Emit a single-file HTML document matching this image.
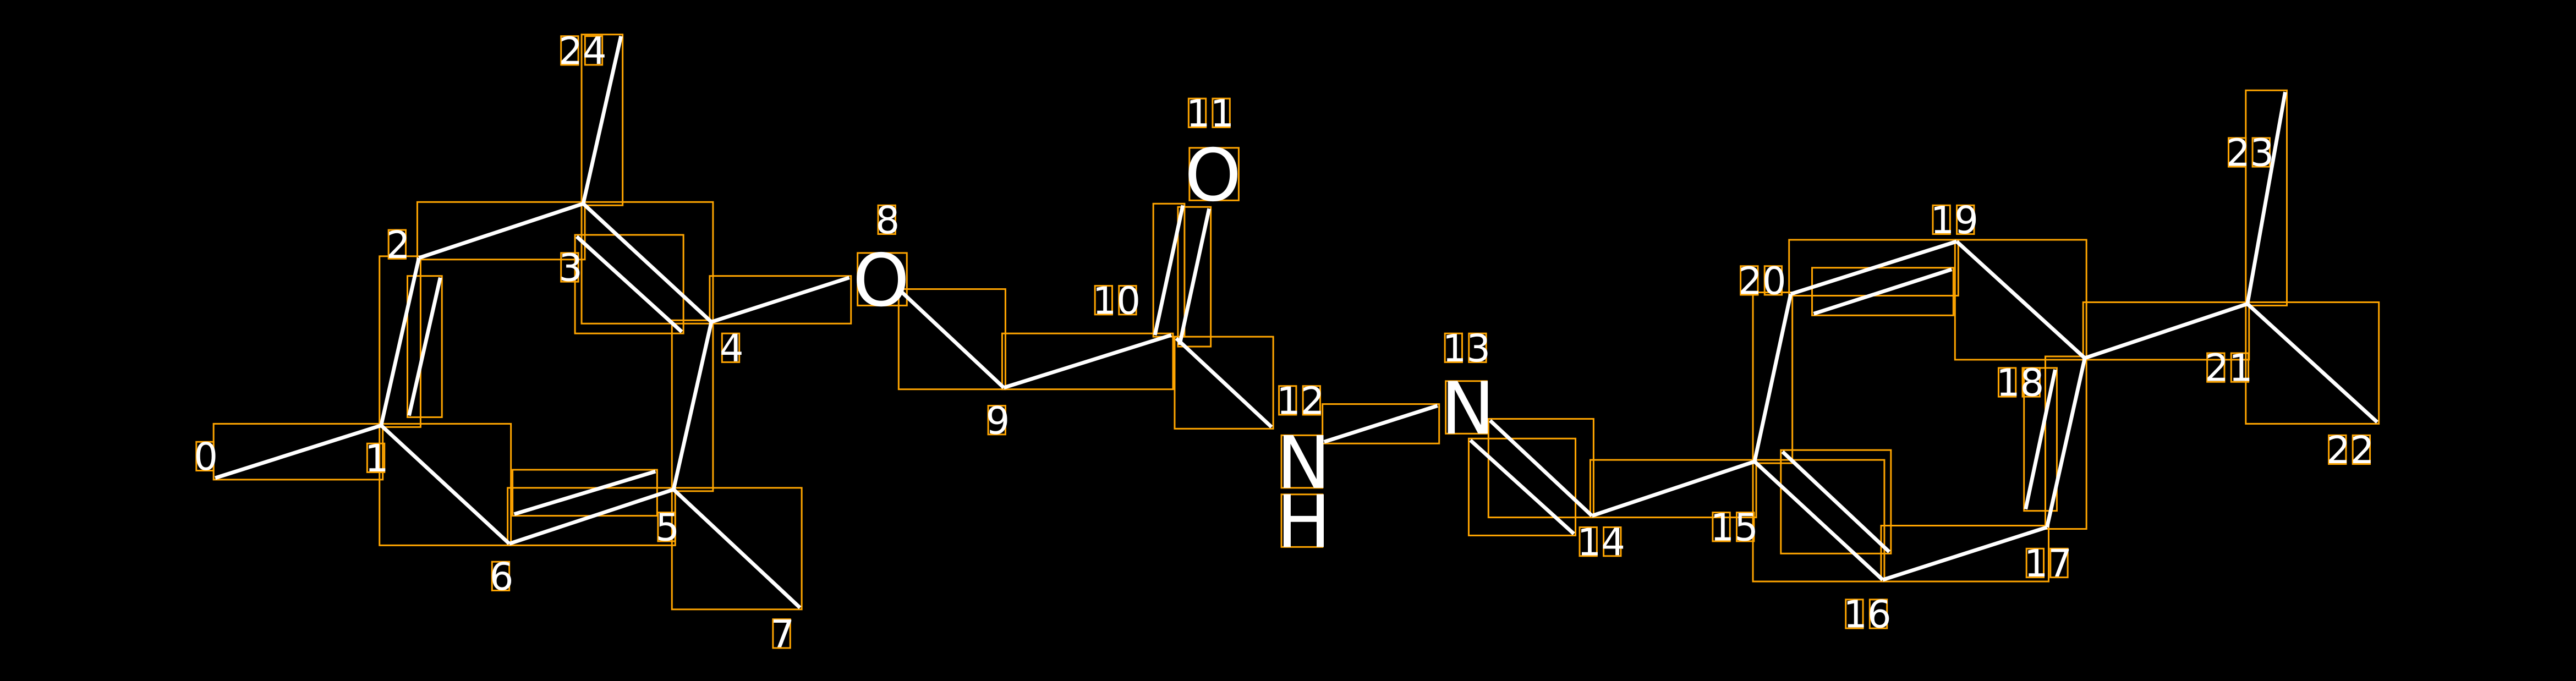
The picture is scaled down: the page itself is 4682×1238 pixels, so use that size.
<!DOCTYPE html>
<html><head><meta charset="utf-8"><style>
html,body{margin:0;padding:0;background:#000;overflow:hidden}
svg{display:block}
text{font-family:"DejaVu Sans","Liberation Sans",sans-serif;fill:#fff}
</style></head><body>
<svg id="s" xmlns="http://www.w3.org/2000/svg" width="4682" height="1238" viewBox="0 0 1568 414.6" preserveAspectRatio="none">
<rect x="0" y="0" width="1568" height="414.6" fill="#000"/>
<g id="boxes" fill="none" stroke="#FFA500" stroke-width="1"></g>
<g id="bonds" stroke="#fff" stroke-width="2.3" stroke-linecap="butt"></g>
<g id="labels">
<text x="118" y="286" font-size="23">0</text>
<text x="222" y="287" font-size="23">1</text>
<text x="235" y="157" font-size="23">2</text>
<text x="340" y="171" font-size="23">3</text>
<text x="438" y="220" font-size="23">4</text>
<text x="399" y="329" font-size="23">5</text>
<text x="298" y="359" font-size="23">6</text>
<text x="469" y="394" font-size="23">7</text>
<text x="533" y="142" font-size="23">8</text>
<text x="600" y="264" font-size="23">9</text>
<text x="665" y="191" font-size="23">10</text>
<text x="722" y="77" font-size="23">11</text>
<text x="777" y="252" font-size="23">12</text>
<text x="878" y="220" font-size="23">13</text>
<text x="960" y="338" font-size="23">14</text>
<text x="1041" y="329" font-size="23">15</text>
<text x="1122" y="382" font-size="23">16</text>
<text x="1232" y="351" font-size="23">17</text>
<text x="1215" y="241" font-size="23">18</text>
<text x="1175" y="142" font-size="23">19</text>
<text x="1058" y="179" font-size="23">20</text>
<text x="1342" y="232" font-size="23">21</text>
<text x="1416" y="282" font-size="23">22</text>
<text x="1355" y="101" font-size="23">23</text>
<text x="340" y="39" font-size="23">24</text>
<text x="519" y="186" font-size="44">O</text>
<text x="721" y="122" font-size="44">O</text>
<text x="777" y="297" font-size="44">N</text>
<text x="777" y="333" font-size="44">H</text>
<text x="877" y="264" font-size="44">N</text>
</g>
</svg>
<script>
var NS="http://www.w3.org/2000/svg";
var bonds=[
[131,291,232,259],[232,259,255,157],[249,253,268,169],[255,157,355,124],
[355,124,378,22],[355,124,433,196],[351,144,415,202],[433,196,517,169],
[433,196,410,298],[410,298,487,370],[410,298,310,331],[313,313,399,287],
[310,331,232,259],[548,177,611,236],[611,236,713,204],[703,204,720,125],
[718,210,736,127],[716,206,774,260],[806,269,875,247],[907,256,969,314],
[895,268,958,325],[969,314,1068,281],[1068,281,1146,353],[1085,275,1150,336],
[1146,353,1246,321],[1246,321,1269,218],[1233,310,1251,225],[1269,218,1191,147],
[1191,147,1090,179],[1104,191,1188,164],[1090,179,1068,281],[1269,218,1368,185],
[1368,185,1447,257],[1368,185,1391,56]
];
var bg=document.getElementById('bonds'),bx=document.getElementById('boxes');
bonds.forEach(function(b){
 var l=document.createElementNS(NS,'line');
 l.setAttribute('x1',b[0]);l.setAttribute('y1',b[1]);l.setAttribute('x2',b[2]);l.setAttribute('y2',b[3]);
 bg.appendChild(l);
 var r=document.createElementNS(NS,'rect');
 var x=Math.min(b[0],b[2])-1,y=Math.min(b[1],b[3])-1;
 r.setAttribute('x',x);r.setAttribute('y',y);
 r.setAttribute('width',Math.abs(b[2]-b[0])+2);r.setAttribute('height',Math.abs(b[3]-b[1])+2);
 bx.appendChild(r);
});
// label glyph boxes
var ts=document.querySelectorAll('#labels text');
ts.forEach(function(t){
 var fs=+t.getAttribute('font-size'),x=+t.getAttribute('x'),y=+t.getAttribute('y');
 var s=t.textContent;
 if(fs<30){
  for(var i=0;i<s.length;i++){
   var r=document.createElementNS(NS,'rect');
   r.setAttribute('x',x+2+i*14.6-0.5);r.setAttribute('y',y-17);
   r.setAttribute('width',10.5);r.setAttribute('height',17.5);
   bx.appendChild(r);
  }
 } else {
  var w=(s=='O')?30:25;
  var r=document.createElementNS(NS,'rect');
  r.setAttribute('x',x+3);r.setAttribute('y',y-32);
  r.setAttribute('width',w);r.setAttribute('height',32);
  bx.appendChild(r);
 }
});
</script>
</body></html>
